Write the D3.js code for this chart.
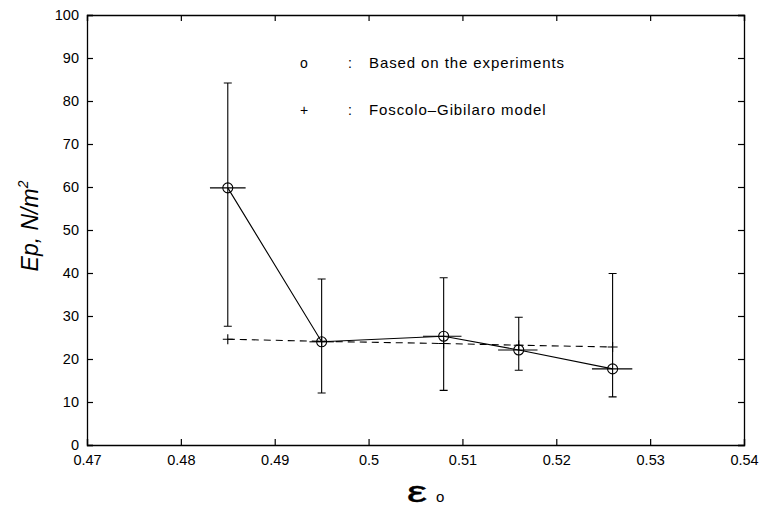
<!DOCTYPE html>
<html>
<head>
<meta charset="utf-8">
<script src="https://cdn.jsdelivr.net/npm/d3@7"></script>
<style>
  html, body { margin: 0; padding: 0; background: #fff; }
  svg { display: block; }
  text { font-family: "Liberation Sans", Arial, sans-serif; fill: #000; }
</style>
</head>
<body>
<svg id="chart" width="764" height="508"></svg>
<script>
// Voidage of the bed (x) and particle-phase elastic modulus (y)
const voidage      = [0.485, 0.495, 0.508, 0.516, 0.526];
const epMeasured   = [59.8, 24.0, 25.3, 22.1, 17.7];
const epUpper      = [84.2, 38.6, 38.9, 29.7, 39.9];
const epLower      = [27.6, 12.1, 12.7, 17.4, 11.2];
const voidageLow   = [0.4831, 0.4937, 0.5058, 0.5138, 0.5238];
const voidageHigh  = [0.4869, 0.4963, 0.5099, 0.5180, 0.5281];
const epModel      = [24.6, 24.1, 23.6, 23.2, 22.8];

const xTicks = [0.47, 0.48, 0.49, 0.5, 0.51, 0.52, 0.53, 0.54];
const yTicks = [0, 10, 20, 30, 40, 50, 60, 70, 80, 90, 100];

const legendItems = [
  { symbol: "o", label: "Based on the experiments" },
  { symbol: "+", label: "Foscolo\u2013Gibilaro model" }
];

const svg = d3.select("#chart");
const m = { left: 87, right: 744, top: 15, bottom: 445 };

const x = d3.scaleLinear().domain([0.47, 0.54]).range([m.left, m.right]);
const y = d3.scaleLinear().domain([0, 100]).range([m.bottom, m.top]);

const tickLen = 6;

// Bottom and left axes carry labels; top and right mirror the ticks
const axBottom = svg.append("g").attr("transform", `translate(0,${m.bottom})`)
  .call(d3.axisBottom(x).tickValues(xTicks).tickSize(-tickLen).tickPadding(10)
    .tickFormat(d => String(+d.toFixed(2))));
const axTop = svg.append("g").attr("transform", `translate(0,${m.top})`)
  .call(d3.axisTop(x).tickValues(xTicks).tickSize(-tickLen).tickFormat(""));
const axLeft = svg.append("g").attr("transform", `translate(${m.left},0)`)
  .call(d3.axisLeft(y).tickValues(yTicks).tickSize(-tickLen).tickPadding(8));
const axRight = svg.append("g").attr("transform", `translate(${m.right},0)`)
  .call(d3.axisRight(y).tickValues(yTicks).tickSize(-tickLen).tickFormat(""));

[axBottom, axTop, axLeft, axRight].forEach(g => {
  g.select(".domain").attr("stroke", "#000").attr("stroke-width", 1.3);
  g.selectAll(".tick line").attr("stroke", "#000").attr("stroke-width", 1.2);
  g.selectAll(".tick text").attr("font-size", 14.5)
    .attr("font-family", "'Liberation Sans', Arial, sans-serif").attr("fill", "#000");
});

// Model curve (dashed) with "+" markers
const modelPts = voidage.map((v, i) => [v, epModel[i]]);
svg.append("path")
  .datum(modelPts)
  .attr("fill", "none").attr("stroke", "#000").attr("stroke-width", 1.1)
  .attr("stroke-dasharray", "7,5")
  .attr("d", d3.line().x(d => x(d[0])).y(d => y(d[1])));

svg.append("g").selectAll("path").data(modelPts)
  .join("path")
  .attr("stroke", "#000").attr("stroke-width", 1.1)
  .attr("d", d => {
    const cx = x(d[0]), cy = y(d[1]);
    return `M${cx - 5},${cy}H${cx + 5}M${cx},${cy - 5}V${cy + 5}`;
  });

// Experimental curve (solid)
svg.append("path")
  .datum(voidage.map((v, i) => [v, epMeasured[i]]))
  .attr("fill", "none").attr("stroke", "#000").attr("stroke-width", 1.1)
  .attr("d", d3.line().x(d => x(d[0])).y(d => y(d[1])));

// Error bars: vertical with caps, horizontal without caps
const cap = 4;
const eb = svg.append("g").attr("stroke", "#000").attr("stroke-width", 1.1).attr("fill", "none");
voidage.forEach((v, i) => {
  const cx = x(v);
  eb.append("path").attr("d",
    `M${cx},${y(epUpper[i])}V${y(epLower[i])}` +
    `M${cx - cap},${y(epUpper[i])}H${cx + cap}` +
    `M${cx - cap},${y(epLower[i])}H${cx + cap}`);
  eb.append("path").attr("d",
    `M${x(voidageLow[i])},${y(epMeasured[i])}H${x(voidageHigh[i])}`);
});

// Circle markers
svg.append("g").selectAll("circle").data(voidage)
  .join("circle")
  .attr("cx", d => x(d))
  .attr("cy", (d, i) => y(epMeasured[i]))
  .attr("r", 5)
  .attr("fill", "none").attr("stroke", "#000").attr("stroke-width", 1.1);

// Legend
const lg = svg.append("g");
legendItems.forEach((item, i) => {
  const yy = 68 + i * 47;
  lg.append("text").attr("x", 304).attr("y", yy).attr("text-anchor", "middle")
    .attr("font-size", 14).text(item.symbol);
  lg.append("text").attr("x", 350).attr("y", yy).attr("text-anchor", "middle")
    .attr("font-size", 14).text(":");
  lg.append("text").attr("x", 369).attr("y", yy).attr("font-size", 15)
    .attr("letter-spacing", 0.9).text(item.label);
});

// Axis titles
const yt = svg.append("text")
  .attr("transform", "translate(38,226) rotate(-90)")
  .attr("text-anchor", "middle")
  .attr("font-size", 23)
  .attr("font-style", "italic")
  .attr("font-family", "'Liberation Sans Narrow', 'Liberation Sans', Arial, sans-serif");
yt.append("tspan").text("Ep, N/m");
yt.append("tspan").attr("font-size", 14).attr("dy", -10).text("2");

svg.append("text")
  .attr("transform", "translate(407,502) scale(1.55,1)")
  .attr("font-family", "'DejaVu Serif', serif")
  .attr("font-size", 29)
  .attr("stroke", "#000").attr("stroke-width", 0.4)
  .text("\u03b5");
svg.append("text").attr("x", 436).attr("y", 502)
  .attr("font-size", 15).text("o");
</script>
</body>
</html>
